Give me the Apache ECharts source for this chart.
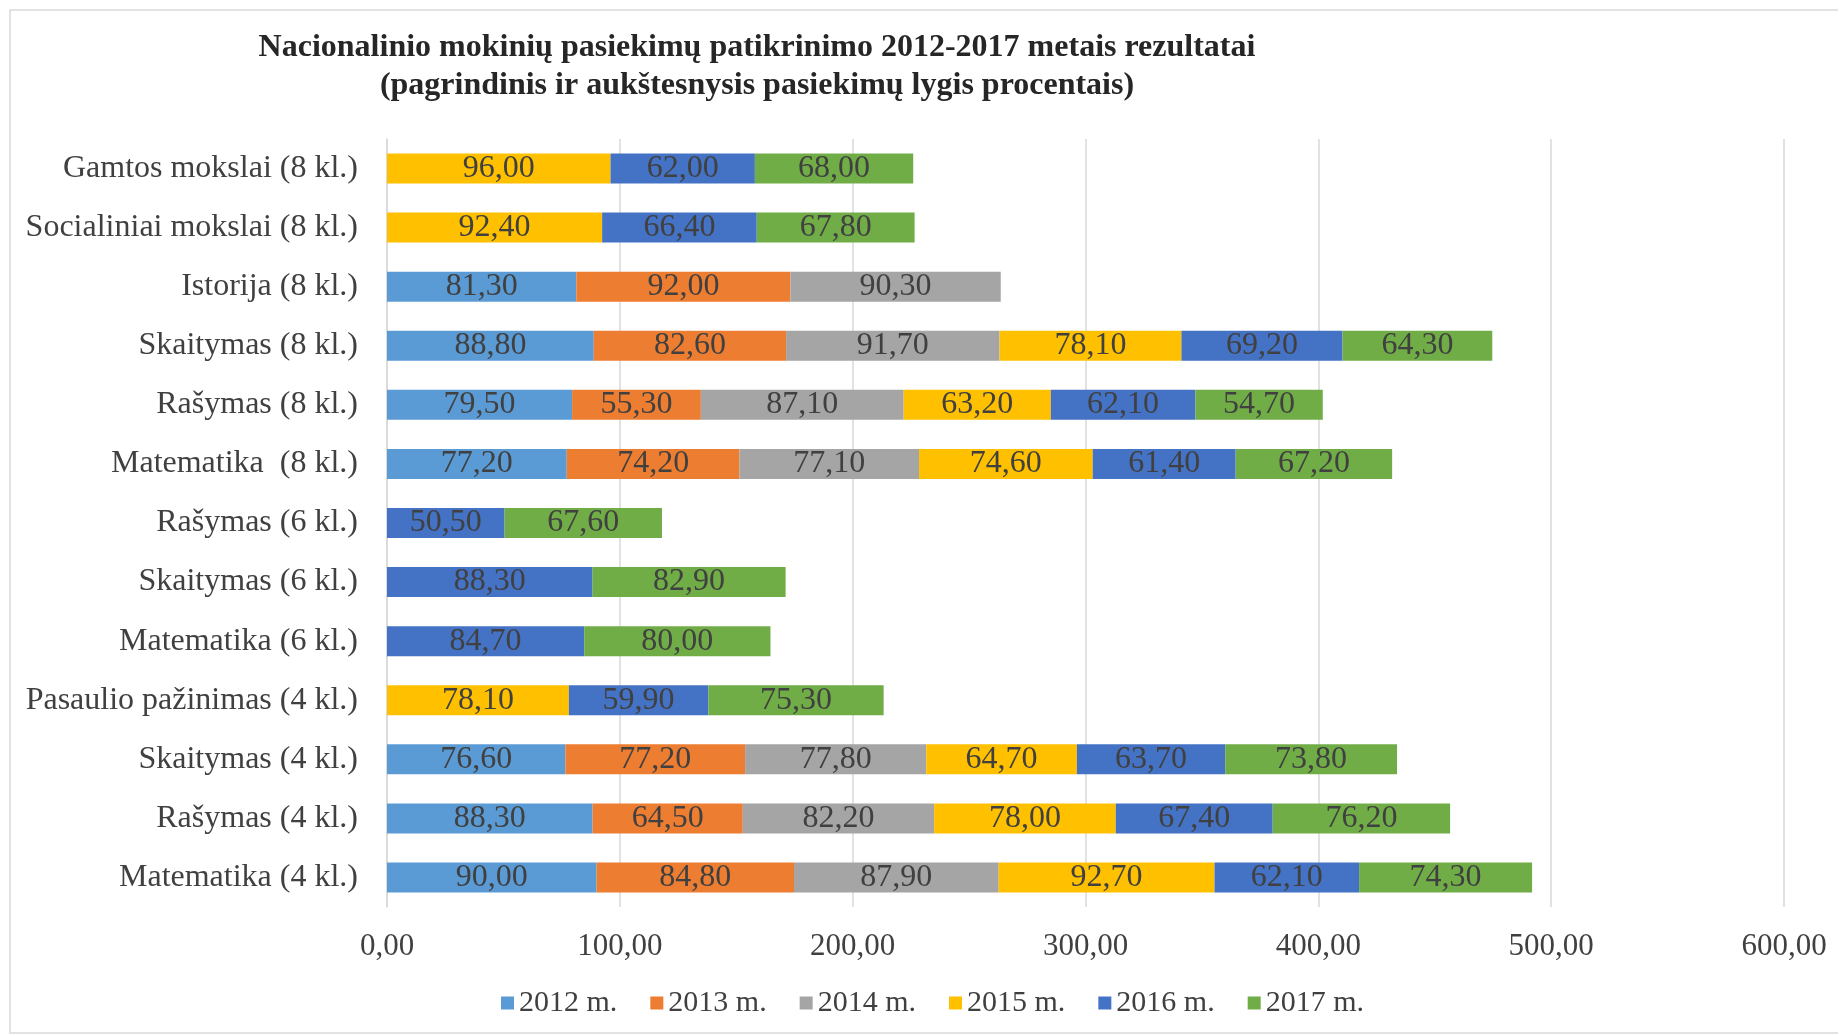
<!DOCTYPE html>
<html><head><meta charset="utf-8">
<script src="https://cdn.jsdelivr.net/npm/echarts@6/dist/echarts.min.js"></script>
<style>html,body{margin:0;padding:0;background:#fff}#c{width:1838px;height:1035px}</style>
</head><body><div id="c"></div>
<script>
const categories = ["Matematika (4 kl.)","Rašymas (4 kl.)","Skaitymas (4 kl.)","Pasaulio pažinimas (4 kl.)","Matematika (6 kl.)","Skaitymas (6 kl.)","Rašymas (6 kl.)","Matematika  (8 kl.)","Rašymas (8 kl.)","Skaitymas (8 kl.)","Istorija (8 kl.)","Socialiniai mokslai (8 kl.)","Gamtos mokslai (8 kl.)"];
const seriesNames = ["2012 m.","2013 m.","2014 m.","2015 m.","2016 m.","2017 m."];
const v2012 = [90.0, 88.3, 76.6, null, null, null, null, 77.2, 79.5, 88.8, 81.3, null, null];
const v2013 = [84.8, 64.5, 77.2, null, null, null, null, 74.2, 55.3, 82.6, 92.0, null, null];
const v2014 = [87.9, 82.2, 77.8, null, null, null, null, 77.1, 87.1, 91.7, 90.3, null, null];
const v2015 = [92.7, 78.0, 64.7, 78.1, null, null, null, 74.6, 63.2, 78.1, null, 92.4, 96.0];
const v2016 = [62.1, 67.4, 63.7, 59.9, 84.7, 88.3, 50.5, 61.4, 62.1, 69.2, null, 66.4, 62.0];
const v2017 = [74.3, 76.2, 73.8, 75.3, 80.0, 82.9, 67.6, 67.2, 54.7, 64.3, null, 67.8, 68.0];
const xTicks = {min: 0, max: 600, interval: 100};
const colors = ["#5B9BD5","#ED7D31","#A5A5A5","#FFC000","#4472C4","#70AD47"];
const allValues = [v2012, v2013, v2014, v2015, v2016, v2017];
const fmt = v => v.toFixed(2).replace('.', ',');
const FONT = "'Liberation Serif','Times New Roman',serif";

const chart = echarts.init(document.getElementById('c'));
chart.setOption({
  animation: false,
  backgroundColor: '#fff',
  color: colors,
  title: {
    text: 'Nacionalinio mokinių pasiekimų patikrinimo 2012-2017 metais rezultatai\n(pagrindinis ir aukštesnysis pasiekimų lygis procentais)',
    left: 752, top: 24, textAlign: 'center',
    textStyle: {fontFamily: FONT, fontWeight: 'bold', fontSize: 32, color: '#262626', lineHeight: 38, align: 'center'}
  },
  graphic: [{type: 'rect', shape: {x: 10, y: 10, width: 1900, height: 1023}, style: {fill: 'none', stroke: '#D9D9D9', lineWidth: 1.5}, silent: true}],
  legend: {
    data: seriesNames, left: 496, top: 983, itemWidth: 13, itemHeight: 13, itemGap: 33,
    icon: 'rect',
    textStyle: {fontFamily: FONT, fontSize: 30, color: '#404040', padding: [0,0,0,0]}
  },
  grid: {left: 387, right: 54, top: 139, bottom: 128, containLabel: false},
  xAxis: {
    type: 'value', min: xTicks.min, max: xTicks.max, interval: xTicks.interval,
    axisLine: {show: false}, axisTick: {show: false},
    splitLine: {lineStyle: {color: '#D9D9D9', width: 1.5}},
    axisLabel: {fontFamily: FONT, fontSize: 31, color: '#404040', margin: 24, formatter: v => fmt(v)}
  },
  yAxis: {
    type: 'category', data: categories,
    axisLine: {show: true, lineStyle: {color: '#D9D9D9', width: 1.5}}, axisTick: {show: false},
    axisLabel: {fontFamily: FONT, fontSize: 32, color: '#404040', margin: 29}
  },
  series: seriesNames.map((n, i) => ({
    name: n, type: 'bar', stack: 'total', barWidth: 30,
    data: allValues[i],
    itemStyle: {color: colors[i]},
    label: {show: true, position: 'inside', fontFamily: FONT, fontSize: 32, color: '#404040',
      formatter: p => p.value == null ? '' : fmt(p.value)}
  }))
});
</script></body></html>
